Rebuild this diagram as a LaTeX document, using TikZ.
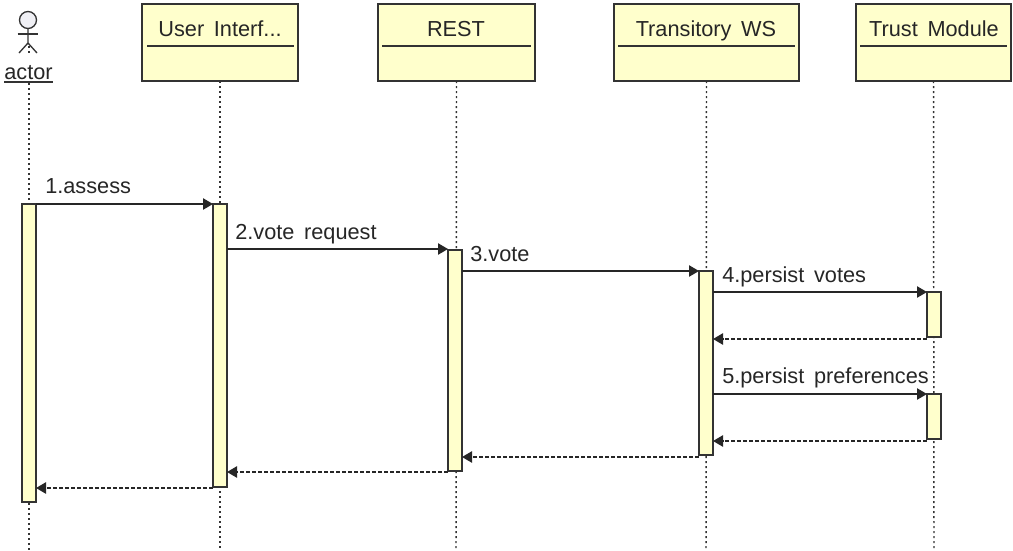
\documentclass[tikz,border=0pt]{standalone}
\usepackage{fontspec}
\setmainfont[WordSpace=1.6]{Liberation Sans}
\usetikzlibrary{arrows.meta,backgrounds}
\definecolor{boxfill}{HTML}{FFFFCC}
\definecolor{edge}{HTML}{333333}
\definecolor{headfill}{HTML}{F0F0F5}
\tikzset{
  x=0.75pt,y=-0.75pt,
  every node/.style={font=\fontsize{16.3pt}{18pt}\selectfont,text=black!85},
  objbox/.style={draw=edge,line width=1.1pt,fill=boxfill,inner sep=0pt,outer sep=0pt,minimum height=57.75pt},
  activation/.style={draw=edge,line width=1.1pt,fill=boxfill,inner sep=0pt,outer sep=0pt,minimum width=10.5pt},
  titletext/.style={inner sep=0pt,anchor=base},
  msglabel/.style={inner sep=0pt,anchor=base west},
  lifeline/.style={draw=edge,line width=1.1pt,dash pattern=on 1.5pt off 2.25pt},
  underlinerule/.style={draw=edge,line width=1pt},
  callmsg/.style={draw=black!85,line width=1pt,-{Triangle[length=7.5pt,width=8.5pt]}},
  retmsg/.style={draw=black!85,line width=1.1pt,dash pattern=on 3pt off 1.5pt,-{Triangle[length=7.5pt,width=8.5pt]}},
  figure/.style={draw=edge,line width=1pt}
}
\begin{document}
\begin{tikzpicture}
\useasboundingbox (0,0) rectangle (1013,550);
% object heads
\node[objbox,minimum width=117pt] (ui) at (220,42.5) {};
\node[objbox,minimum width=117.75pt] (rest) at (456.5,42.5) {};
\node[objbox,minimum width=138.75pt] (tws) at (706.5,42.5) {};
\node[objbox,minimum width=116.25pt] (trust) at (933.5,42.5) {};
\node[titletext] (uit) at (220,36) {User Interf...};
\node[titletext] (restt) at (456,36) {REST};
\node[titletext] (twst) at (706,36) {Transitory WS};
\node[titletext] (trustt) at (934,36) {Trust Module};
\draw[underlinerule] (147,46) -- (294,46);
\draw[underlinerule] (382,46) -- (531,46);
\draw[underlinerule] (618,46) -- (795,46);
\draw[underlinerule] (860,46) -- (1007,46);
% actor
\node[draw=edge,line width=1pt,fill=headfill,circle,minimum size=12.75pt,inner sep=0pt] (head) at (28,20) {};
\draw[figure] (17.5,34) -- (38,34);
\draw[figure] (head.south) -- (28,43) -- (19,53);
\draw[figure] (28,43) -- (37,53);
\node[titletext] (actor) at (28.5,79) {actor};
\draw[underlinerule] (4,82) -- (53,82);
% activations
\node[activation,minimum height=223.5pt] (a0) at (29,353) {};
\node[activation,minimum height=212.25pt] (a1) at (220,345.5) {};
\node[activation,minimum height=165.75pt] (a2) at (455,360.5) {};
\node[activation,minimum height=138pt] (a3) at (706,363) {};
\node[activation,minimum height=33.75pt] (a4) at (934,314.5) {};
\node[activation,minimum height=33.75pt] (a5) at (934,416.5) {};
% lifelines
\coordinate (e0) at (29,550);
\coordinate (e1) at (220,550);
\coordinate (e2) at (456,550);
\coordinate (e3) at (706,550);
\coordinate (e4) at (934,550);
\coordinate (actortop) at (29,46);
\coordinate (actorleg) at (29,53);
\coordinate (actorbase) at (29,83);
\begin{pgfonlayer}{background}
\draw[lifeline] (actortop) -- (actorleg);
\draw[lifeline] (actorbase) -- (e0);
\draw[lifeline] (ui.south) -- (e1);
\draw[lifeline] (rest.south) -- (e2);
\draw[lifeline] (tws.south) -- (e3);
\draw[lifeline] (trust.south) -- (e4);
\end{pgfonlayer}
% message rows
\coordinate (m1) at (0,204);
\coordinate (m2) at (0,249);
\coordinate (m3) at (0,271);
\coordinate (m4) at (0,292);
\coordinate (r4) at (0,339);
\coordinate (m5) at (0,394);
\coordinate (r5) at (0,441);
\coordinate (r3) at (0,457);
\coordinate (r2) at (0,472);
\coordinate (r1) at (0,488);
\draw[callmsg] (a0.east |- m1) -- (a1.west |- m1);
\draw[callmsg] (a1.east |- m2) -- (a2.west |- m2);
\draw[callmsg] (a2.east |- m3) -- (a3.west |- m3);
\draw[callmsg] (a3.east |- m4) -- (a4.west |- m4);
\draw[retmsg] (a4.west |- r4) -- (a3.east |- r4);
\draw[callmsg] (a3.east |- m5) -- (a5.west |- m5);
\draw[retmsg] (a5.west |- r5) -- (a3.east |- r5);
\draw[retmsg] (a3.west |- r3) -- (a2.east |- r3);
\draw[retmsg] (a2.west |- r2) -- (a1.east |- r2);
\draw[retmsg] (a1.west |- r1) -- (a0.east |- r1);
% labels
\node[msglabel] (l1) at (45,193) {1.assess};
\node[msglabel] (l2) at (235,239) {2.vote request};
\node[msglabel] (l3) at (470,261) {3.vote};
\node[msglabel] (l4) at (722,282) {4.persist votes};
\node[msglabel] (l5) at (722,383) {5.persist preferences};
\end{tikzpicture}
\end{document}
